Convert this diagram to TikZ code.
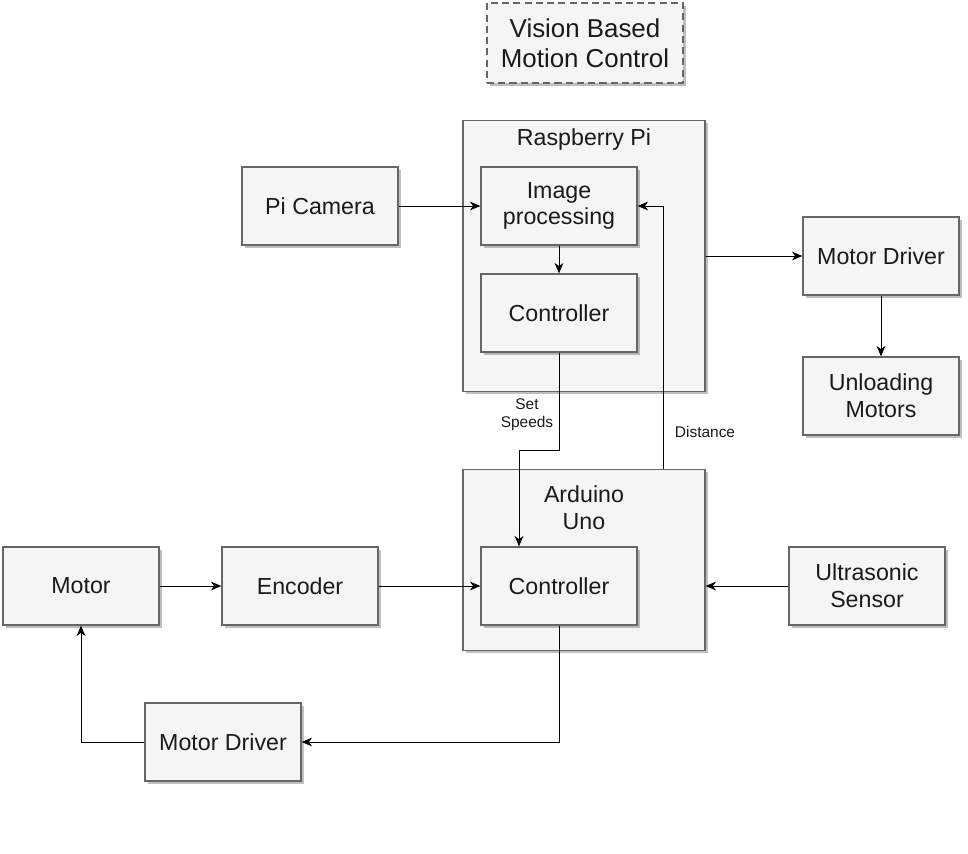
\documentclass[tikz,border=0pt]{standalone}
\usepackage{fontspec}
\setmainfont{Liberation Sans}
\usetikzlibrary{arrows.meta,shadows}
\definecolor{boxfill}{HTML}{F5F5F5}
\definecolor{boxdraw}{HTML}{666666}
\definecolor{boxtext}{HTML}{1A1A1A}
\tikzset{
greyboxv1/.style={rectangle, draw=boxdraw, fill=boxfill, line width=0.9pt, text=boxtext, align=center, inner sep=0pt, minimum width=3.9cm, minimum height=1.95cm, font=\fontsize{16.5}{19}\selectfont, drop shadow={shadow xshift=0.07cm, shadow yshift=-0.07cm, fill=black, opacity=0.25}},
groupboxv1/.style={greyboxv1, minimum width=6.05cm, minimum height=6.775cm},
groupboxv2/.style={greyboxv1, minimum width=6.05cm, minimum height=4.525cm},
titleboxv1/.style={greyboxv1, dash pattern=on 5pt off 3pt, minimum width=4.9cm, minimum height=2cm, font=\fontsize{18.4}{21.3}\selectfont},
grouptext/.style={text=boxtext, align=center, inner sep=0pt, font=\fontsize{16.5}{19}\selectfont},
smalllabel/.style={text=boxtext, align=center, inner sep=0pt, font=\fontsize{11}{12.8}\selectfont},
arrowv1/.style={line width=0.7pt, black, -{Stealth[length=2.6mm, width=2.2mm, inset=0.8mm]}},
}
\begin{document}
\begin{tikzpicture}[x=0.025cm, y=-0.025cm]
\useasboundingbox (0,0) rectangle (968,854);

\node[titleboxv1] at (585,43) (title) {Vision Based\\Motion Control};

\node[groupboxv1] at (584,256) (rpi) {};
\node[grouptext] at (584,140) (rpilabel) {Raspberry Pi};
\node[greyboxv1] at (559,206) (imgproc) {Image\\processing};
\node[greyboxv1] at (559,313) (ctrlpi) {Controller};

\node[greyboxv1] at (320,206) (cam) {Pi Camera};
\node[greyboxv1] at (881,256) (drvtop) {Motor Driver};
\node[greyboxv1] at (881,396) (unload) {Unloading\\Motors};

\node[groupboxv2] at (584,560) (ard) {};
\node[grouptext] at (584,508) (ardlabel) {Arduino\\Uno};
\node[greyboxv1] at (559,586) (ctrlard) {Controller};

\node[greyboxv1] at (867,586) (sonic) {Ultrasonic\\Sensor};
\node[greyboxv1] at (81,586) (motor) {Motor};
\node[greyboxv1] at (300,586) (enc) {Encoder};
\node[greyboxv1] at (223,742) (drvbot) {Motor Driver};

\coordinate (speedv1) at (519,450);
\coordinate (distv1) at (663,470);

\draw[arrowv1] (cam.east) -- (imgproc.west);
\draw[arrowv1] (imgproc.south) -- (ctrlpi.north);
\draw[arrowv1] (rpi.east) -- (drvtop.west);
\draw[arrowv1] (drvtop.south) -- (unload.north);
\draw[arrowv1] (ctrlpi.south) |- (speedv1) -- (speedv1 |- ctrlard.north);
\draw[arrowv1] (distv1 |- ard.north) |- (imgproc.east);
\draw[arrowv1] (motor.east) -- (enc.west);
\draw[arrowv1] (enc.east) -- (ctrlard.west);
\draw[arrowv1] (sonic.west) -- (sonic.west -| ard.east);
\draw[arrowv1] (ctrlard.south) |- (drvbot.east);
\draw[arrowv1] (drvbot.west) -| (motor.south);

\node[smalllabel] at (527,415) (speedlabel) {Set\\Speeds};
\node[smalllabel] at (705,432) (distlabel) {Distance};
\end{tikzpicture}
\end{document}
